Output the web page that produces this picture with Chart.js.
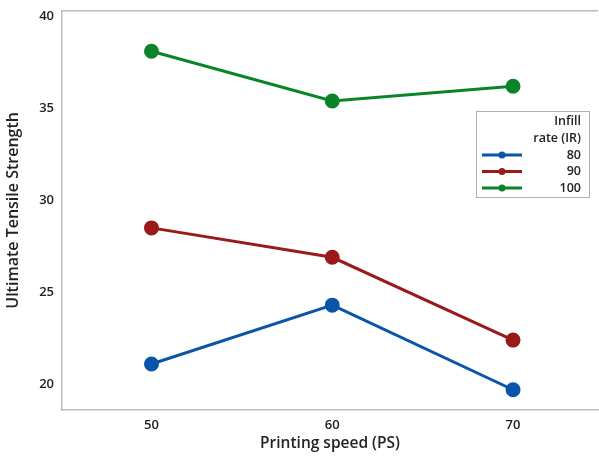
<!DOCTYPE html>
<html>
<head>
<meta charset="utf-8">
<script src="https://cdn.jsdelivr.net/npm/chart.js@4.4.0/dist/chart.umd.min.js"></script>
<style>
  html, body { margin: 0; padding: 0; background: #fff; }
  #wrap { width: 599px; height: 457px; }
</style>
</head>
<body>
<div id="wrap"><canvas id="grafico"></canvas></div>
<script>
// data
const speeds = [50, 60, 70];
const infillLabels = ['80', '90', '100'];
const uts80 = [21.1, 24.3, 19.7];
const uts90 = [28.5, 26.9, 22.4];
const uts100 = [38.1, 35.4, 36.2];
const yTicks = [20, 25, 30, 35, 40];

const colors = ['#0B55A8', '#9A1A1A', '#0B8429'];
const fontFam = '"Open Sans", "Noto Sans", sans-serif';

function toPoints(vals) {
  return speeds.map((s, i) => ({ x: s, y: vals[i] }));
}

const series = [uts80, uts90, uts100];

// legend box drawn by hand, like the Minitab one
const legendBox = {
  id: 'legendBox',
  afterDraw(chart) {
    const ctx = chart.ctx;
    const x0 = 476, y0 = 111, w = 113, h = 86;
    ctx.save();
    ctx.fillStyle = '#fff';
    ctx.fillRect(x0, y0, w, h);
    ctx.strokeStyle = '#b0b0b0';
    ctx.lineWidth = 1;
    ctx.strokeRect(x0 + 0.5, y0 + 0.5, w, h);
    ctx.fillStyle = '#222';
    ctx.font = '600 12.5px ' + fontFam;
    ctx.textAlign = 'right';
    ctx.textBaseline = 'middle';
    ctx.fillText('Infill', 581, 121);
    ctx.fillText('rate (IR)', 581, 138);
    chart.data.datasets.forEach((ds, i) => {
      const y = 155 + i * 16.5;
      ctx.strokeStyle = ds.borderColor;
      ctx.lineWidth = 3;
      ctx.beginPath();
      ctx.moveTo(482, y);
      ctx.lineTo(522, y);
      ctx.stroke();
      ctx.fillStyle = ds.borderColor;
      ctx.beginPath();
      ctx.arc(502, y, 3.5, 0, Math.PI * 2);
      ctx.fill();
      ctx.fillStyle = '#222';
      ctx.fillText(ds.label, 581, y);
    });
    ctx.restore();
  }
};

window.addEventListener('DOMContentLoaded', function () {
  const ctx = document.getElementById('grafico').getContext('2d');
  new Chart(ctx, {
    type: 'line',
    data: {
      datasets: series.map((vals, i) => ({
        label: infillLabels[i],
        data: toPoints(vals),
        borderColor: colors[i],
        backgroundColor: colors[i],
        borderWidth: 3,
        pointRadius: 6,
        pointHoverRadius: 6,
        tension: 0,
        clip: false
      }))
    },
    options: {
      responsive: true,
      maintainAspectRatio: false,
      animation: false,
      layout: { autoPadding: false, padding: { top: 9, right: 1, left: 0, bottom: 0 } },
      plugins: {
        legend: { display: false },
        tooltip: { enabled: false }
      },
      scales: {
        x: {
          type: 'linear',
          min: 45.05,
          max: 74.7,
          afterBuildTicks: axis => { axis.ticks = speeds.map(v => ({ value: v })); },
          afterFit: axis => { axis.height = 47; axis.paddingRight = 0; axis.paddingLeft = 0; },
          grid: { display: false, drawTicks: false },
          border: { color: '#bdbdbd', width: 1.5 },
          ticks: {
            padding: 7,
            color: '#222',
            font: { family: fontFam, size: 13, weight: '600' }
          },
          title: {
            display: true,
            text: 'Printing speed (PS)',
            color: '#222',
            padding: { top: 1 },
            font: { family: fontFam, size: 15.5, weight: '600' }
          }
        },
        y: {
          min: 18.6,
          max: 40.3,
          afterBuildTicks: axis => { axis.ticks = yTicks.map(v => ({ value: v })); },
          afterFit: axis => { axis.width = 62; },
          grid: { display: false, drawOnChartArea: false, drawTicks: true, tickLength: 5, color: '#bdbdbd' },
          border: { color: '#bdbdbd', width: 1.5 },
          ticks: {
            padding: 3,
            color: '#222',
            font: { family: fontFam, size: 13, weight: '600' }
          },
          title: {
            display: true,
            text: 'Ultimate Tensile Strength',
            color: '#222',
            padding: { bottom: 5 },
            font: { family: fontFam, size: 16, weight: '600' }
          }
        }
      }
    },
    plugins: [{
      id: 'frameTop',
      beforeDatasetsDraw(chart) {
        const a = chart.chartArea, c = chart.ctx;
        c.save();
        c.strokeStyle = '#bdbdbd';
        c.lineWidth = 1.5;
        c.beginPath();
        c.moveTo(a.left, a.top);
        c.lineTo(a.right, a.top);
        c.stroke();
        c.restore();
      }
    }, legendBox]
  });
});
</script>
</body>
</html>
